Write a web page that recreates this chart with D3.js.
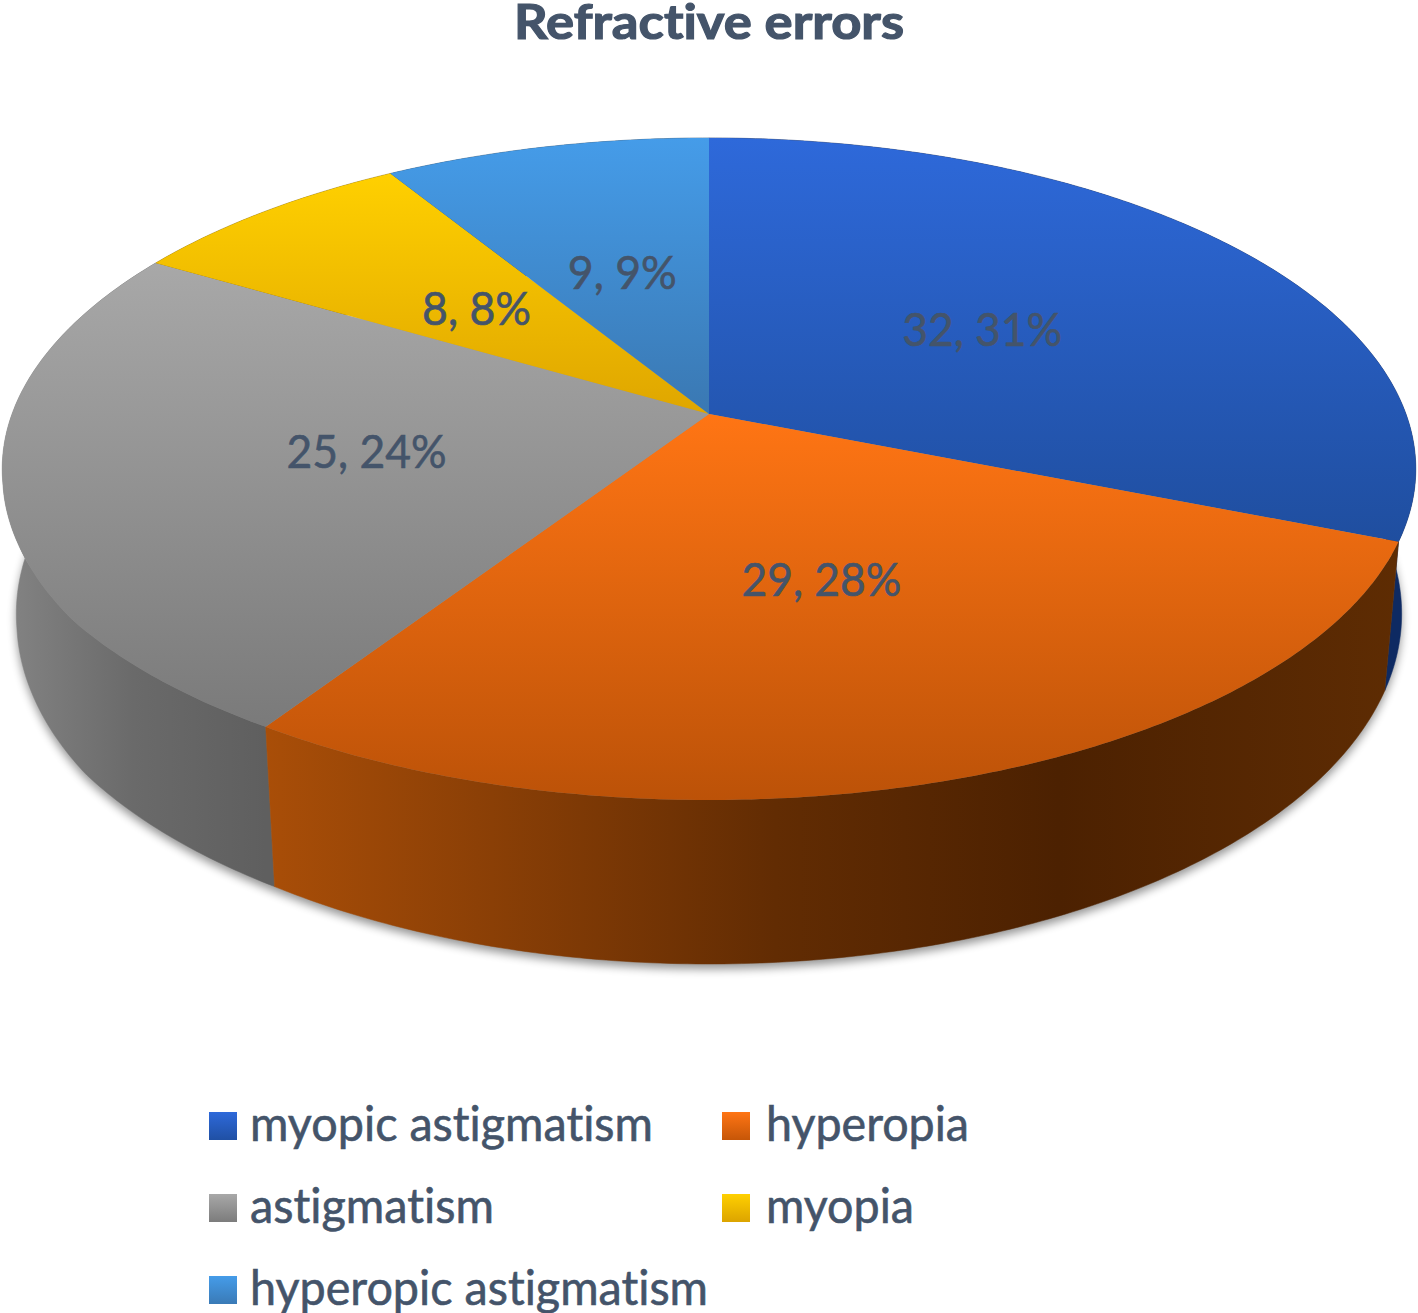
<!DOCTYPE html>
<html><head><meta charset="utf-8">
<script src="https://cdn.jsdelivr.net/npm/d3@7/dist/d3.min.js"></script>
<style>html,body{margin:0;padding:0;background:#fff}svg{display:block}text{font-family:Lato,"Open Sans",sans-serif;fill:#44546a;stroke:#44546a;stroke-width:.6;font-variant-ligatures:none}</style>
</head><body><svg id="c" width="1418" height="1313"></svg>
<script>
const title = "Refractive errors";
const categories = ["myopic astigmatism","hyperopia","astigmatism","myopia","hyperopic astigmatism"];
const values = [32,29,25,8,9];
const percents = [31,28,24,8,9];
const topFrom = ["#2e69da","#ff7514","#a8a8a8","#ffd000","#459ce9"];
const topTo   = ["#1f4e9f","#bc5208","#7a7a7a","#dfa600","#3a78b2"];
const legendTo = ["#2050a4","#c65608","#7c7c7c","#dca400","#3a7ab6"];
const wallStops = [
  [[0,"#0e2a62"],[1,"#0e2a62"]],
  [[0,"#a94e08"],[0.2,"#8a3f06"],[0.45,"#622c03"],[0.7,"#4c2101"],[1,"#5e2c03"]],
  [[0,"#848484"],[0.5,"#6a6a6a"],[1,"#5f5f5f"]],
  [[0,"#8a6a00"],[1,"#8a6a00"]],
  [[0,"#1f4e78"],[1,"#1f4e78"]]
];
const labelWidths = [160,160,160,109,109];
const legendWidths = [403,203,244,148,458];

const svg = d3.select("#c"), defs = svg.append("defs");

// perspective projection of the unit disc onto the page
const cx=709, cy=414, kx=697, ky=321.9, persp=-0.166;
const project = ([u,v]) => { const w=1+persp*v; return [cx+kx*u/w, cy+ky*v/w]; };
const xFloor = d3.scaleLinear().domain([cx-100,cx+100]).range([cx-98,cx+98]);
const yFloor = d3.scaleLinear().domain([541,641]).range([690,795.8]);
const floor = ([x,y]) => [xFloor(x), yFloor(y)];
const deg = Math.PI/180;
// the reference's rim is slightly squarer at the lower left
const rimBulge = d3.scaleLinear().domain([213*deg,235*deg,248*deg,258*deg]).range([1,1.008,1.003,1]).clamp(true);
const unit = a => [Math.sin(a)*rimBulge(a), -Math.cos(a)*rimBulge(a)];
const line = d3.line();

const pie = d3.pie().sort(null).value(d=>d)(values);
const labelArc = d3.arc().innerRadius(0).outerRadius(0.99);
const rim = d => { const n=Math.ceil((d.endAngle-d.startAngle)*90);
  return d3.range(n+1).map(i=>project(unit(d.startAngle+(d.endAngle-d.startAngle)*i/n))); };

const full = rim({startAngle:0,endAngle:2*Math.PI});
defs.append("filter").attr("id","blur").attr("x","-5%").attr("y","-5%").attr("width","110%").attr("height","110%")
  .append("feGaussianBlur").attr("stdDeviation",5);
svg.append("path").attr("d",line(full.map(floor))+"Z").attr("transform","translate(0,5)")
  .attr("fill","#000").attr("opacity",0.42).attr("filter","url(#blur)");

function grad(id,x1,y1,x2,y2,stops){
  const g=defs.append("linearGradient").attr("id",id).attr("gradientUnits","userSpaceOnUse")
    .attr("x1",x1).attr("y1",y1).attr("x2",x2).attr("y2",y2);
  stops.forEach(([o,c])=>g.append("stop").attr("offset",o).attr("stop-color",c));
}

// side walls, far to near
[0,4,3,2,1].forEach(i=>{
  const pts=rim(pie[i]), ex=d3.extent(pts,p=>p[0]);
  grad("w"+i,ex[0],0,ex[1],0,wallStops[i]);
  svg.append("path").attr("d",line(pts.concat(pts.map(floor).reverse()))+"Z")
    .attr("fill",`url(#w${i})`).attr("stroke",`url(#w${i})`).attr("stroke-width",0.5);
});
// top faces
pie.forEach((d,i)=>{
  const pts=[project([0,0])].concat(rim(d)), ey=d3.extent(pts,p=>p[1]);
  grad("t"+i,0,ey[0],0,ey[1],[[0,topFrom[i]],[1,topTo[i]]]);
  svg.append("path").attr("d",line(pts)+"Z").attr("fill",`url(#t${i})`);
});
// data labels
pie.forEach((d,i)=>{
  const [x,y]=project(labelArc.centroid(d));
  svg.append("text").attr("x",x).attr("y",y+17).attr("text-anchor","middle")
    .attr("font-size",46).attr("textLength",labelWidths[i]).attr("lengthAdjust","spacingAndGlyphs")
    .text(`${values[i]}, ${percents[i]}%`);
});
// title
svg.append("text").attr("x",709).attr("y",39).attr("text-anchor","middle").attr("font-size",48)
  .attr("font-weight",700).style("stroke-width",1.2).attr("textLength",390).attr("lengthAdjust","spacingAndGlyphs").text(title);
// legend
const lx=d3.scalePoint().domain([0,1]).range([209,722]);
const ly=d3.scalePoint().domain([0,1,2]).range([1140,1304]);
categories.forEach((c,i)=>{
  const col=i%2,row=Math.floor(i/2),x=lx(col),y=ly(row);
  const g=defs.append("linearGradient").attr("id","l"+i).attr("x1",0).attr("y1",0).attr("x2",0).attr("y2",1);
  g.append("stop").attr("offset",0).attr("stop-color",topFrom[i]);
  g.append("stop").attr("offset",1).attr("stop-color",legendTo[i]);
  svg.append("rect").attr("x",x).attr("y",y-28).attr("width",28).attr("height",28).attr("fill",`url(#l${i})`);
  svg.append("text").attr("x",x+(col?44:41)).attr("y",y+1).attr("font-size",48)
    .attr("textLength",legendWidths[i]).attr("lengthAdjust","spacingAndGlyphs").text(c);
});
</script></body></html>
